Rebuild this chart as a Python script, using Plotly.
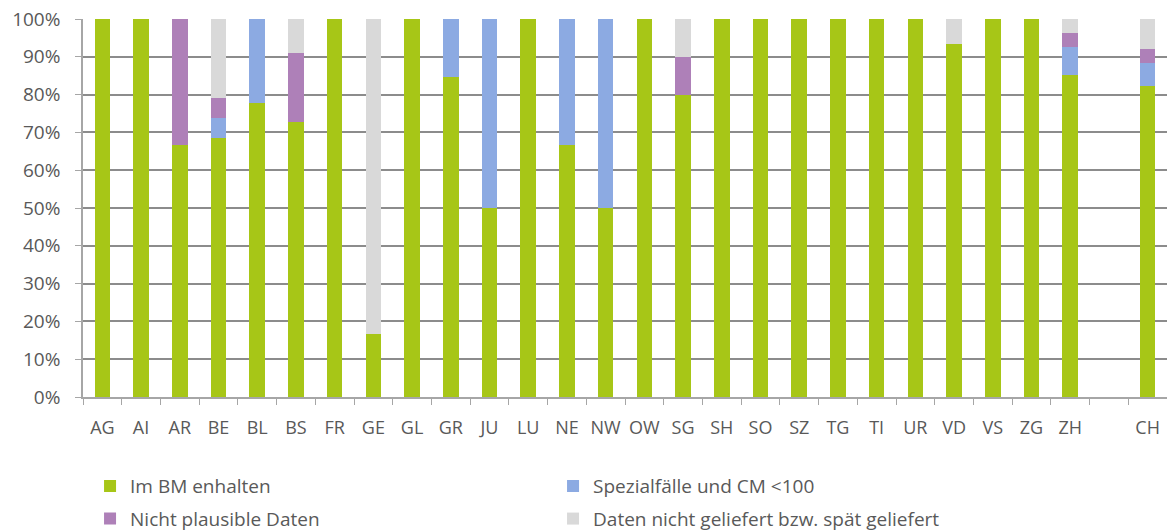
import plotly.graph_objects as go

categories = ["AG", "AI", "AR", "BE", "BL", "BS", "FR", "GE", "GL", "GR", "JU", "LU", "NE",
              "NW", "OW", "SG", "SH", "SO", "SZ", "TG", "TI", "UR", "VD", "VS", "ZG", "ZH", " ", "CH"]

im_bm = [100, 100, 66.7, 68.4, 77.8, 72.7, 100, 16.7, 100, 84.6, 50, 100, 66.7,
         50, 100, 80, 100, 100, 100, 100, 100, 100, 93.3, 100, 100, 85.2, None, 82.3]
spezial = [0, 0, 0, 5.3, 22.2, 0, 0, 0, 0, 15.4, 50, 0, 33.3,
           50, 0, 0, 0, 0, 0, 0, 0, 0, 0, 0, 0, 7.4, None, 6.0]
nicht_plausibel = [0, 0, 33.3, 5.3, 0, 18.2, 0, 0, 0, 0, 0, 0, 0,
                   0, 0, 10, 0, 0, 0, 0, 0, 0, 0, 0, 0, 3.7, None, 3.7]
nicht_geliefert = [0, 0, 0, 21.0, 0, 9.1, 0, 83.3, 0, 0, 0, 0, 0,
                   0, 0, 10, 0, 0, 0, 0, 0, 0, 6.7, 0, 0, 3.7, None, 8.0]

y_tick_values = [0, 10, 20, 30, 40, 50, 60, 70, 80, 90, 100]
y_tick_labels = ["0%", "10%", "20%", "30%", "40%", "50%", "60%", "70%", "80%", "90%", "100%"]

series = [
    ("Im BM enhalten", im_bm, "#A7C617", "legend"),
    ("Spezialfälle und CM <100", spezial, "#8CAAE2", "legend"),
    ("Nicht plausible Daten", nicht_plausibel, "#AE80B8", "legend2"),
    ("Daten nicht geliefert bzw. spät geliefert", nicht_geliefert, "#D9D9D9", "legend2"),
]

fig = go.Figure()
for name, vals, color, leg in series:
    fig.add_trace(go.Bar(
        x=categories, y=vals, name=name, legend=leg,
        marker=dict(color=color, line=dict(width=0)),
        hovertemplate="%{x}: %{y:.1f}%<extra>" + name + "</extra>",
    ))

font_color = "#595959"
legend_common = dict(
    orientation="h", xanchor="left", yanchor="middle",
    entrywidth=418, entrywidthmode="pixels",
    font=dict(family="Open Sans", size=19, color=font_color),
    bgcolor="rgba(0,0,0,0)", traceorder="normal",
)

fig.update_layout(
    width=1167, height=531,
    margin=dict(l=83, r=0, t=19, b=134, autoexpand=False),
    paper_bgcolor="white", plot_bgcolor="white",
    barmode="stack", bargap=0.6,
    font=dict(family="Open Sans", size=16, color=font_color),
    legend=dict(x=0.0065, y=-0.236, **legend_common),
    legend2=dict(x=0.0065, y=-0.322, **legend_common),
    xaxis=dict(
        type="category", categoryorder="array", categoryarray=categories,
        tickson="boundaries", ticks="outside", ticklen=6, tickcolor="#A6A6A6",
        showline=True, linecolor="#A6A6A6", linewidth=1.5,
        showgrid=False, tickfont=dict(size=18, color=font_color),
        tickangle=0, ticklabelstandoff=14, automargin=False,
    ),
    yaxis=dict(
        range=[0, 100], tickmode="array", tickvals=y_tick_values, ticktext=y_tick_labels,
        ticks="outside", ticklen=6, tickcolor="#A6A6A6",
        showline=True, linecolor="#A6A6A6", linewidth=1.5,
        showgrid=True, gridcolor="#8C8C8C", gridwidth=1.5,
        zeroline=False, tickfont=dict(size=19, color=font_color),
        ticklabelstandoff=11, automargin=False,
    ),
)

fig.write_html(
    "out.html",
    config={"displayModeBar": False},
    post_script="document.body.style.margin='0';document.body.style.overflow='hidden';",
)
